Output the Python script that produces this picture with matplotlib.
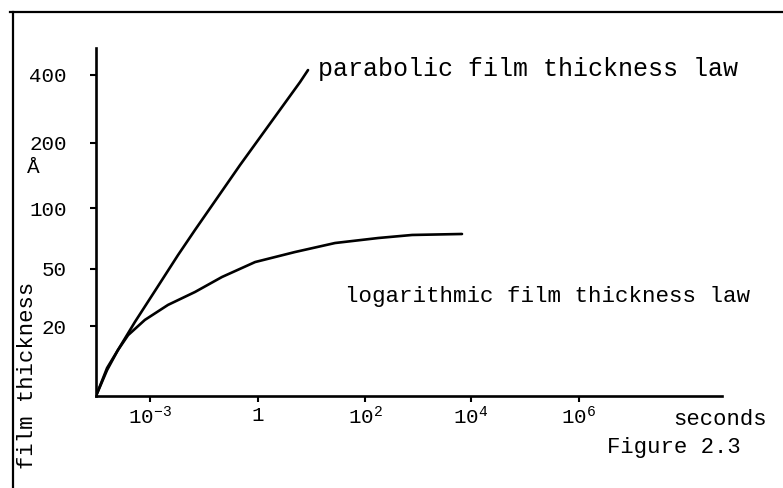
import numpy as np
import matplotlib
matplotlib.use("Agg")
import matplotlib.pyplot as plt
from matplotlib.lines import Line2D

plt.rcParams['font.family'] = ['Liberation Mono', 'DejaVu Sans Mono']
plt.rcParams['mathtext.fontset'] = 'custom'
plt.rcParams['mathtext.rm'] = 'Liberation Mono'

# ---------------- DATA ---------------- #
# time in seconds given as log10, thickness in Angstrom
parabolic_logt = [-5.0, -4.59, -4.19, -3.56, -2.81, -2.22, -1.75, -0.5, 0.785, 0.935]
parabolic_thk = [0.0, 7.4, 13.1, 22.1, 40.0, 61.5, 82.0, 166.0, 379.0, 429.0]

logarithmic_logt = [-5.0, -4.59, -4.19, -3.81, -3.19, -2.5, -1.75, -1.0, -0.08,
                    0.69, 1.44, 2.25, 2.89, 3.83]
logarithmic_thk = [0.0, 8.0, 13.1, 17.4, 23.2, 31.1, 37.9, 45.8, 55.7,
                   63.9, 71.3, 75.4, 77.9, 78.7]

x_tick_vals = [1e-3, 1, 1e2, 1e4, 1e6]
x_tick_labels = [r'$\mathregular{10^{-3}}$', '1', r'$\mathregular{10^{2}}$',
                 r'$\mathregular{10^{4}}$', r'$\mathregular{10^{6}}$']
y_tick_vals = [20, 50, 100, 200, 400]
y_tick_labels = ['20', '50', '100', '200', '400']

# ---------------- AXIS SCALES (hand drawn, uneven spacing) ---------------- #
x_knots_log = [-5, -3, 0, 2, 4, 6, 10]
x_knots_pos = [0, 54, 162, 269, 375, 483, 697]
y_knots_val = [0, 20, 50, 100, 200, 400, 800]
y_knots_pos = [0, 70, 127, 188, 253, 321, 389]


def x_fwd(t):
    t = np.asarray(t, dtype=float)
    return np.interp(np.log10(np.maximum(t, 1e-30)), x_knots_log, x_knots_pos)


def x_inv(p):
    return 10 ** np.interp(np.asarray(p, dtype=float), x_knots_pos, x_knots_log)


def y_fwd(v):
    return np.interp(np.asarray(v, dtype=float), y_knots_val, y_knots_pos)


def y_inv(p):
    return np.interp(np.asarray(p, dtype=float), y_knots_pos, y_knots_val)


W, H = 783, 488
fig = plt.figure(figsize=(W / 100, H / 100), dpi=100)


def px(x, y):
    return x / W, 1 - y / H


ax = fig.add_axes([96 / W, 1 - 396 / H, (722 - 96) / W, (396 - 48) / H])
ax.set_xscale('function', functions=(x_fwd, x_inv))
ax.set_yscale('function', functions=(y_fwd, y_inv))

ax.plot(10 ** np.array(parabolic_logt), parabolic_thk, color='black', lw=1.9,
        solid_capstyle='round', solid_joinstyle='round')
ax.plot(10 ** np.array(logarithmic_logt), logarithmic_thk, color='black', lw=1.9,
        solid_capstyle='round', solid_joinstyle='round')

ax.set_xlim(x_inv(0), x_inv(626))
ax.set_ylim(0, y_inv(348))

ax.spines['top'].set_visible(False)
ax.spines['right'].set_visible(False)
ax.spines['left'].set_linewidth(1.9)
ax.spines['bottom'].set_linewidth(1.9)

ax.set_xticks(x_tick_vals)
ax.set_xticklabels(x_tick_labels)
ax.set_yticks(y_tick_vals)
ax.set_yticklabels(y_tick_labels)
ax.minorticks_off()
ax.tick_params(axis='x', direction='out', length=4, width=1.5, pad=3, labelsize=15)
ax.tick_params(axis='y', direction='out', length=4, width=1.5, pad=17, labelsize=15)

# ---------------- TEXT ---------------- #
fig.text(*px(318, 76), 'parabolic film thickness law', fontsize=18, va='baseline')
fig.text(*px(345, 302), 'logarithmic film thickness law', fontsize=16.2, va='baseline')
fig.text(*px(673, 425), 'seconds', fontsize=16, va='baseline')
fig.text(*px(607, 453), 'Figure 2.3', fontsize=16, va='baseline')
fig.text(*px(28, 375), 'film thickness', fontsize=16, rotation=90,
         ha='center', va='center')
fig.text(*px(33, 168), 'Å', fontsize=15, ha='center', va='center')

# ---------------- FRAME ---------------- #
fig.add_artist(Line2D([10 / W, 1], [1 - 12 / H, 1 - 12 / H], color='black', lw=1.6))
fig.add_artist(Line2D([13 / W, 13 / W], [1 - 12 / H, 0], color='black', lw=1.6))

fig.savefig('out.png', dpi=100)
